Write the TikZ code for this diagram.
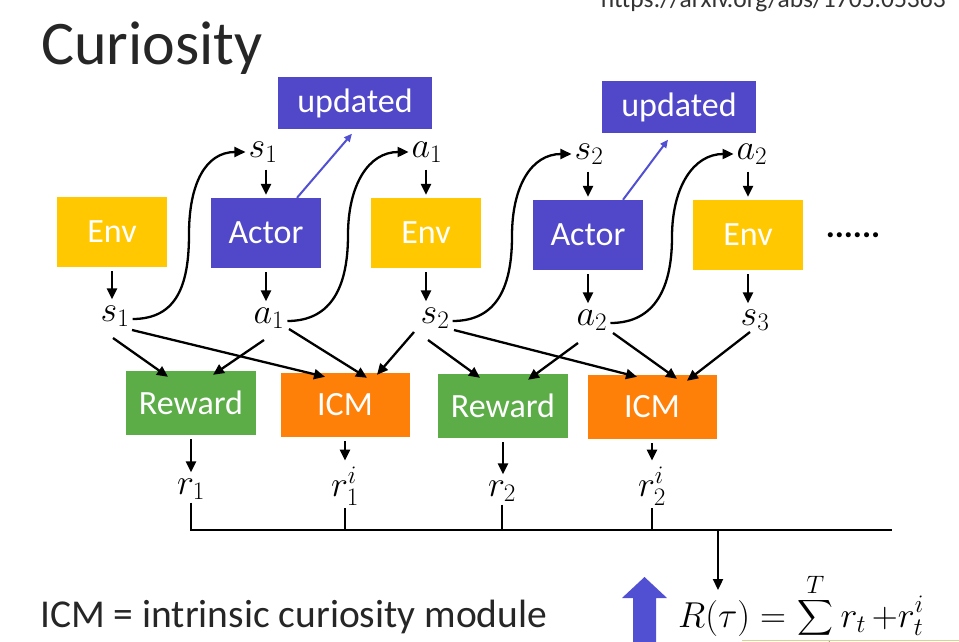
\RequirePackage{fix-cm}
\documentclass[tikz,border=0pt]{standalone}
\usepackage{amsmath}
\usepackage{exscale}
\usepackage[no-math]{fontspec}
\setmainfont{Carlito}
\usetikzlibrary{arrows.meta,calc}
\definecolor{envyellow}{RGB}{255,200,0}
\definecolor{actblue}{RGB}{80,72,200}
\definecolor{rewgreen}{RGB}{92,172,72}
\definecolor{icmorange}{RGB}{255,128,8}
\definecolor{bigblue}{RGB}{82,80,210}
\definecolor{titlegray}{RGB}{38,38,38}
\begin{document}
\begin{tikzpicture}[x=1pt,y=-1pt,
  boxbase/.style={draw=none, text=white, inner sep=0pt, font=\fontsize{34}{36}\selectfont},
  envbox/.style={boxbase, fill=envyellow, minimum width=110pt, minimum height=70pt},
  actbox/.style={boxbase, fill=actblue, minimum width=110pt, minimum height=70pt},
  updbox/.style={boxbase, fill=actblue, minimum width=154pt, minimum height=51pt},
  rewbox/.style={boxbase, fill=rewgreen, minimum width=130pt, minimum height=64pt},
  icmbox/.style={boxbase, fill=icmorange, minimum width=129pt, minimum height=64pt},
  mlab/.style={inner sep=3pt, font=\fontsize{36}{38}\selectfont},
  arr/.style={line width=2.3pt, -{Triangle[length=11pt,width=10pt]}},
  varr/.style={arr, shorten <=4pt, shorten >=3pt},
  bluearrow/.style={line width=2pt, draw=bigblue, -{Triangle[length=8pt,width=7pt]}},
  busline/.style={line width=2.3pt}
]
\useasboundingbox (0,0) rectangle (959,642);
\clip (0,0) rectangle (959,642);
\fill[white] (0,0) rectangle (959,642);

% title and texts
\node[anchor=base west, inner sep=0, font=\fontsize{62}{66}\selectfont, text=titlegray] (title) at (41,65) {Curiosity};
\node[anchor=base east, inner sep=0, font=\fontsize{25.5}{27}\selectfont, text=black!80] (url) at (946,8) {https://arxiv.org/abs/1705.05363};
\node[anchor=base west, inner sep=0, font=\fontsize{39.5}{42}\selectfont, text=titlegray] (note) at (40,627) {ICM = intrinsic curiosity module};

% boxes
\node[envbox] (env1) at (112,232) {Env};
\node[actbox] (act1) at (266,233) {Actor};
\node[envbox] (env2) at (426,233) {Env};
\node[actbox] (act2) at (588,235) {Actor};
\node[envbox] (env3) at (748,235) {Env};
\node[updbox] (upd1) at (355,103) {updated};
\node[updbox] (upd2) at (679,107) {updated};
\node[inner sep=0, font=\bfseries\fontsize{34}{36}\selectfont] (dots) at (853,235) {......};

\node[rewbox] (rew1) at (191,403) {Reward};
\node[icmbox] (icm1) at (345,405) {ICM};
\node[rewbox] (rew2) at (503,406) {Reward};
\node[icmbox] (icm2) at (652,407) {ICM};

% labels top
\node[mlab] (s1t) at (263,152) {$s_1$};
\node[mlab] (a1t) at (427,152) {$a_1$};
\node[mlab] (s2t) at (589,154) {$s_2$};
\node[mlab] (a2t) at (752,154) {$a_2$};
% labels bottom
\node[mlab] (s1b) at (115,316) {$s_1$};
\node[mlab] (a1b) at (269,318) {$a_1$};
\node[mlab] (s2b) at (435,318) {$s_2$};
\node[mlab] (a2b) at (592,320) {$a_2$};
\node[mlab] (s3b) at (755,320) {$s_3$};
% rewards
\node[mlab] (r1) at (191,489) {$r_1$};
\node[mlab] (r1i) at (345,486) {$r_1^i$};
\node[mlab] (r2) at (502,491) {$r_2$};
\node[mlab] (r2i) at (652,486) {$r_2^i$};

% formula
\node[anchor=base west, inner sep=0, font=\fontsize{36}{38}\selectfont] (form) at (678,627) {$\displaystyle R(\tau) = \sum_{t=1}^{T} r_t \,{+}r_t^i$};
\coordinate (ftop) at ([shift={(40,-37)}]form.base west);

% top arrows
\draw[varr] (s1t.south -| act1.north) -- (act1.north);
\draw[varr] (a1t.south -| env2.north) -- (env2.north);
\draw[varr] (s2t.south -| act2.north) -- (act2.north);
\draw[varr] (a2t.south -| env3.north) -- (env3.north);
% box to bottom labels
\draw[varr] (env1.south) -- (env1.south |- s1b.north);
\draw[varr] (act1.south) -- (act1.south |- a1b.north);
\draw[varr] (env2.south) -- (env2.south |- s2b.north);
\draw[varr] (act2.south) -- (act2.south |- a2b.north);
\draw[varr] (env3.south) -- (env3.south |- s3b.north);

% S-curves
\draw[arr] ([shift={(0,3)}]s1b.east) .. controls +(45,0) and +(0,50) .. ($(s1b.east)!.5!(s1t.west)$) .. controls +(0,-50) and +(-40,0) .. (s1t.west);
\draw[arr] ([shift={(0,3)}]a1b.east) .. controls +(45,0) and +(0,50) .. ($(a1b.east)!.5!(a1t.west)$) .. controls +(0,-50) and +(-40,0) .. (a1t.west);
\draw[arr] ([shift={(0,3)}]s2b.east) .. controls +(45,0) and +(0,50) .. ($(s2b.east)!.5!(s2t.west)$) .. controls +(0,-50) and +(-40,0) .. (s2t.west);
\draw[arr] ([shift={(0,3)}]a2b.east) .. controls +(45,0) and +(0,50) .. ($(a2b.east)!.5!(a2t.west)$) .. controls +(0,-50) and +(-40,0) .. (a2t.west);

% actor to updated
\draw[bluearrow] ([xshift=31pt]act1.north) -- ([shift={(-3,5)}]upd1.south);
\draw[bluearrow] ([xshift=35pt]act2.north) -- ([shift={(-11,7)}]upd2.south);

% inputs to Reward / ICM
\draw[arr] ([shift={(-2,22)}]s1b.center) -- ([shift={(-23,6)}]rew1.north);
\draw[arr] ([shift={(17,14)}]s1b.center) -- ([shift={(-20,4)}]icm1.north);
\draw[arr] ([shift={(-5,22)}]a1b.center) -- ([shift={(22,4)}]rew1.north);
\draw[arr] ([shift={(20,11)}]a1b.center) -- ([shift={(22,5)}]icm1.north);
\draw[arr] ([shift={(-21,14)}]s2b.center) -- ([shift={(32,2)}]icm1.north);
\draw[arr] ([shift={(-7,22)}]s2b.center) -- ([shift={(-23,4)}]rew2.north);
\draw[arr] ([shift={(19,12)}]s2b.center) -- ([shift={(-15,2)}]icm2.north);
\draw[arr] ([shift={(-14,23)}]a2b.center) -- ([shift={(25,6)}]rew2.north);
\draw[arr] ([shift={(21,13)}]a2b.center) -- ([shift={(25,4)}]icm2.north);
\draw[arr] ([shift={(-5,12)}]s3b.center) -- ([shift={(35,6)}]icm2.north);

% outputs
\draw[varr] (rew1.south) -- (rew1.south |- r1.north);
\draw[varr] (icm1.south) -- (icm1.south |- r1i.north);
\draw[varr] (rew2.south) -- (rew2.south |- r2.north);
\draw[varr] (icm2.south) -- (icm2.south |- r2i.north);

% bus
\coordinate (busR) at (892,530);
\coordinate (busD) at (718,530);
\draw[busline] (r1.south) |- (busR);
\draw[busline] (r1i.south) -- (r1i.south |- busR);
\draw[busline] (r2.south) -- (r2.south |- busR);
\draw[busline] (r2i.south) -- (r2i.south |- busR);
\draw[arr] (busD) -- (busD |- ftop);

% big blue up arrow
\fill[bigblue] (633,650) -- (633,598) -- (622,598) -- (644.5,577) -- (667,598) -- (656,598) -- (656,650) -- cycle;
% faint line at bottom right
\draw[olive!35, line width=1.2pt] (742,640.5) -- (959,640.5);
\end{tikzpicture}
\end{document}
